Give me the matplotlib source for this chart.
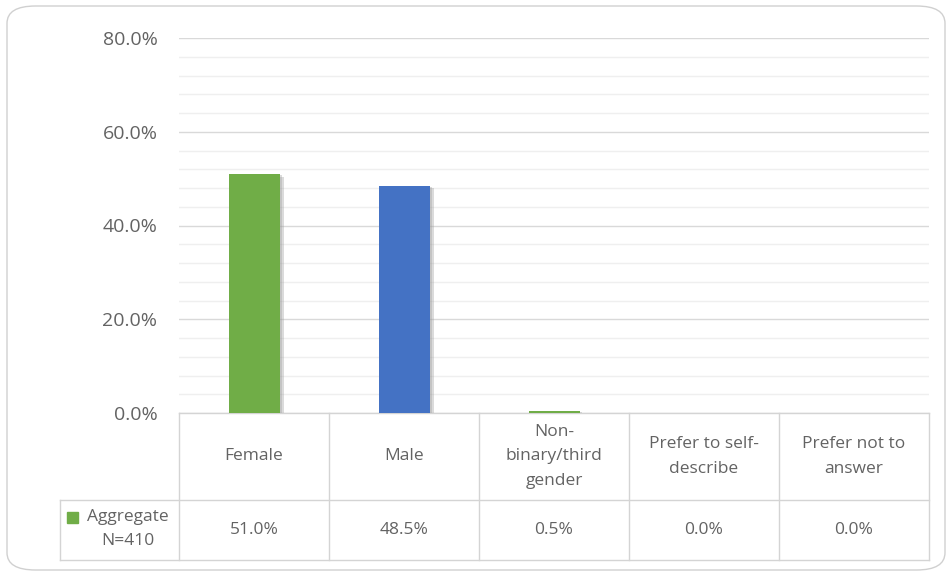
import numpy as np
import matplotlib
matplotlib.use('Agg')
import matplotlib.pyplot as plt
import matplotlib.patheffects as pe
from matplotlib.patches import FancyBboxPatch, Rectangle
from matplotlib.transforms import blended_transform_factory

# Data
categories = ['Female', 'Male', 'Non-\nbinary/third\ngender',
              'Prefer to self-\ndescribe', 'Prefer not to\nanswer']
values = [51.0, 48.5, 0.5, 0.0, 0.0]
bar_colors = ['#70AD47', '#4472C4', '#70AD47', '#70AD47', '#70AD47']
series_label = 'Aggregate\nN=410'

plt.rcParams['font.family'] = ['Open Sans', 'DejaVu Sans']
text_col = '#636363'
grid_major = '#d9d9d9'
grid_minor = '#efefef'

W, H = 952, 577
fig = plt.figure(figsize=(W / 100, H / 100), dpi=100)

def fx(px):
    return px / W

def fy(py):
    return 1 - py / H

# rounded outer border
border = FancyBboxPatch((fx(7), fy(570)), 938 / W, 564 / H,
                        boxstyle='round,pad=0,rounding_size=0.03',
                        transform=fig.transFigure, facecolor='none',
                        edgecolor='#d0d0d0', linewidth=1.0, zorder=-1)
fig.patches.append(border)

left, right, top, bottom = 179, 929, 38, 413
ax = fig.add_axes([fx(left), fy(bottom), (right - left) / W, (bottom - top) / H])
ax.set_facecolor('none')

x = np.arange(len(categories))
bars = ax.bar(x, values, width=0.34, color=bar_colors, zorder=3)
for b in bars:
    b.set_path_effects([pe.SimplePatchShadow(offset=(3, -2), shadow_rgbFace='#9a9a9a', alpha=0.35),
                        pe.SimplePatchShadow(offset=(1.5, -1), shadow_rgbFace='#9a9a9a', alpha=0.35),
                        pe.Normal()])

ax.set_xlim(-0.5, len(categories) - 0.5)
ax.set_ylim(0, 80)
ax.set_yticks(np.arange(0, 81, 20))
ax.set_yticks(np.arange(0, 81, 4), minor=True)
ax.set_yticklabels([f'{v:.1f}%' for v in np.arange(0, 81, 20)])
ax.tick_params(axis='y', which='both', length=0, pad=15.5, labelsize=14, labelcolor=text_col)
ax.set_xticks([])
ax.grid(axis='y', which='minor', color=grid_minor, linewidth=1.0, zorder=0)
ax.grid(axis='y', which='major', color=grid_major, linewidth=1.0, zorder=1)
for s in ax.spines.values():
    s.set_visible(False)

# data table below the plot area
tr = blended_transform_factory(ax.transData, ax.transAxes)
h_px = bottom - top
y_head = -(500 - bottom) / h_px
y_data = -(560 - bottom) / h_px
leg_left = -0.5 - (left - 60) / 150.0
line_kw = dict(color='#d4d4d4', linewidth=1.0, transform=tr, clip_on=False)

ax.plot([-0.5, len(categories) - 0.5], [0, 0], **line_kw)
ax.plot([leg_left, len(categories) - 0.5], [y_head, y_head], **line_kw)
ax.plot([leg_left, len(categories) - 0.5], [y_data, y_data], **line_kw)
for i in range(len(categories) + 1):
    ax.plot([i - 0.5, i - 0.5], [0, y_data], **line_kw)
ax.plot([leg_left, leg_left], [y_head, y_data], **line_kw)

for i, cat in enumerate(categories):
    ax.text(i, y_head / 2, cat, transform=tr, ha='center', va='center',
            fontsize=12.5, color=text_col, linespacing=1.72)
    ax.text(i, (y_head + y_data) / 2, f'{values[i]:.1f}%', transform=tr,
            ha='center', va='center', fontsize=12.5, color=text_col)

# legend key inside the series cell
fig.text(fx(128), fy(529), series_label, ha='center', va='center',
         fontsize=12.5, color=text_col, linespacing=1.65)
fig.patches.append(Rectangle((fx(67), fy(523)), 11 / W, 11 / H,
                             transform=fig.transFigure, color=bar_colors[0]))

fig.savefig('out.png', dpi=100)
